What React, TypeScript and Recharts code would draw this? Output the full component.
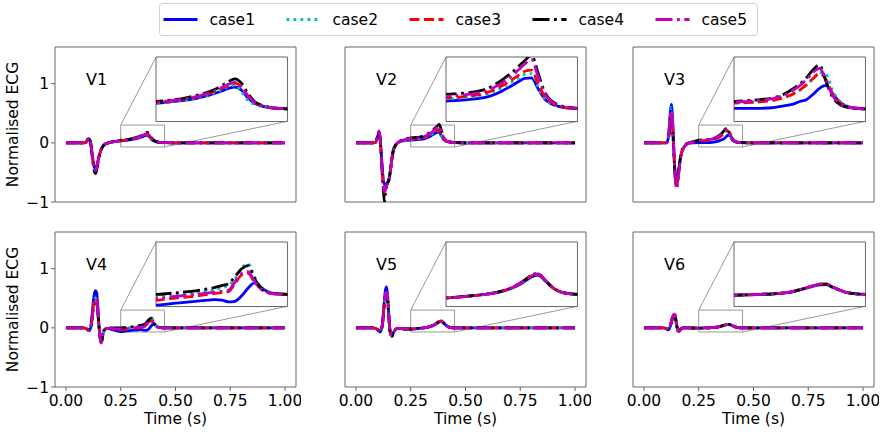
import React from 'react';
import { LineChart, Line, XAxis, YAxis, ReferenceArea, ReferenceLine, ReferenceDot } from 'recharts';

// ---------------- data ----------------
const TIME = [0, 0.08, 0.09, 0.1,
  0.105, 0.11, 0.115, 0.12, 0.125, 0.13, 0.135, 0.14, 0.145, 0.15, 0.155, 0.16, 0.165, 0.17,
  0.18, 0.19, 0.2, 0.22,
  0.25, 0.27, 0.29, 0.31, 0.33,
  0.34, 0.35, 0.36, 0.37, 0.38, 0.39, 0.4, 0.41, 0.42, 0.43,
  0.45, 0.48, 0.52, 0.6, 1.0];

const SERIES_NAMES = ['case1', 'case2', 'case3', 'case4', 'case5'];
const LEAD_NAMES = ['V1', 'V2', 'V3', 'V4', 'V5', 'V6'];
const X_TICKS = [0, 0.25, 0.5, 0.75, 1];
const Y_TICKS = [-1, 0, 1];
const INSET_X_TICKS = [0.3, 0.4];
const INSET_Y_TICKS = [0, 0.2];

const V1_CASE1 = [0, 0, 0.005, 0.05,
  0.07, 0.04, -0.05, -0.2, -0.33, -0.42, -0.44, -0.4, -0.32, -0.24, -0.17, -0.12, -0.08, -0.05,
  -0.02, -0.005, 0.005, 0.02,
  0.035, 0.042, 0.05, 0.062, 0.08,
  0.092, 0.105, 0.12, 0.128, 0.11, 0.065, 0.035, 0.02, 0.012, 0.007,
  0.003, 0.001, 0, 0, 0];
const V1_CASE2 = [0, 0, 0.005, 0.055,
  0.075, 0.04, -0.06, -0.21, -0.34, -0.43, -0.45, -0.41, -0.33, -0.25, -0.18, -0.12, -0.08, -0.05,
  -0.02, -0.005, 0.005, 0.02,
  0.036, 0.043, 0.052, 0.065, 0.084,
  0.097, 0.112, 0.13, 0.138, 0.1, 0.05, 0.028, 0.017, 0.01, 0.006,
  0.003, 0.001, 0, 0, 0];
const V1_CASE3 = [0, 0, 0.006, 0.06,
  0.08, 0.045, -0.06, -0.22, -0.36, -0.46, -0.48, -0.43, -0.34, -0.25, -0.18, -0.12, -0.08, -0.05,
  -0.02, -0.005, 0.005, 0.02,
  0.038, 0.046, 0.056, 0.07, 0.09,
  0.104, 0.12, 0.138, 0.15, 0.128, 0.075, 0.04, 0.022, 0.013, 0.007,
  0.003, 0.001, 0, 0, 0];
const V1_CASE4 = [0, 0, 0.007, 0.065,
  0.085, 0.05, -0.06, -0.23, -0.38, -0.49, -0.52, -0.46, -0.36, -0.26, -0.18, -0.12, -0.08, -0.05,
  -0.02, -0.005, 0.006, 0.024,
  0.045, 0.052, 0.062, 0.078, 0.1,
  0.115, 0.135, 0.158, 0.175, 0.15, 0.09, 0.045, 0.025, 0.014, 0.008,
  0.003, 0.001, 0, 0, 0];
const V1_CASE5 = [0, 0, 0.006, 0.06,
  0.08, 0.045, -0.06, -0.22, -0.36, -0.45, -0.47, -0.42, -0.33, -0.25, -0.18, -0.12, -0.08, -0.05,
  -0.02, -0.005, 0.005, 0.021,
  0.04, 0.048, 0.058, 0.072, 0.093,
  0.108, 0.125, 0.143, 0.155, 0.132, 0.078, 0.04, 0.022, 0.013, 0.007,
  0.003, 0.001, 0, 0, 0];

const V2_CASE1 = [0, 0, 0.01, 0.12,
  0.17, 0.08, -0.15, -0.42, -0.62, -0.7, -0.71, -0.69, -0.66, -0.62, -0.52, -0.38, -0.24, -0.13,
  -0.04, 0.0, 0.02, 0.035,
  0.047, 0.052, 0.058, 0.068, 0.095,
  0.115, 0.135, 0.158, 0.178, 0.18, 0.12, 0.06, 0.032, 0.018, 0.01,
  0.004, 0.001, 0, 0, 0];
const V2_CASE2 = [0, 0, 0.01, 0.13,
  0.18, 0.09, -0.16, -0.45, -0.66, -0.75, -0.74, -0.7, -0.67, -0.62, -0.52, -0.38, -0.24, -0.13,
  -0.04, 0.0, 0.022, 0.042,
  0.058, 0.064, 0.071, 0.084, 0.115,
  0.135, 0.155, 0.18, 0.2, 0.205, 0.13, 0.062, 0.033, 0.018, 0.01,
  0.004, 0.001, 0, 0, 0];
const V2_CASE3 = [0, 0, 0.01, 0.14,
  0.19, 0.09, -0.17, -0.5, -0.75, -0.88, -0.8, -0.72, -0.68, -0.63, -0.53, -0.39, -0.25, -0.14,
  -0.045, 0.0, 0.023, 0.046,
  0.065, 0.07, 0.078, 0.092, 0.125,
  0.145, 0.168, 0.195, 0.218, 0.225, 0.15, 0.075, 0.038, 0.02, 0.011,
  0.004, 0.001, 0, 0, 0];
const V2_CASE4 = [0, 0, 0.012, 0.14,
  0.19, 0.09, -0.18, -0.52, -0.8, -1.0, -0.85, -0.72, -0.68, -0.63, -0.53, -0.39, -0.25, -0.14,
  -0.045, 0.0, 0.026, 0.058,
  0.085, 0.09, 0.098, 0.115, 0.155,
  0.182, 0.21, 0.245, 0.28, 0.31, 0.21, 0.1, 0.05, 0.028, 0.015,
  0.006, 0.002, 0, 0, 0];
const V2_CASE5 = [0, 0, 0.011, 0.14,
  0.2, 0.09, -0.17, -0.5, -0.74, -0.84, -0.8, -0.72, -0.68, -0.63, -0.53, -0.39, -0.25, -0.14,
  -0.045, 0.0, 0.025, 0.052,
  0.075, 0.08, 0.088, 0.104, 0.14,
  0.165, 0.19, 0.225, 0.26, 0.285, 0.19, 0.09, 0.045, 0.025, 0.013,
  0.005, 0.002, 0, 0, 0];

const V3_CASE1 = [0, 0, 0, 0,
  0.01, 0.06, 0.25, 0.52, 0.65, 0.45, 0.02, -0.42, -0.66, -0.72, -0.62, -0.45, -0.3, -0.2,
  -0.09, -0.04, -0.015, 0.0,
  0.005, 0.005, 0.006, 0.01, 0.022,
  0.03, 0.045, 0.055, 0.085, 0.12, 0.137, 0.09, 0.045, 0.02, 0.009,
  0.003, 0.001, 0, 0, 0];
const V3_CASE2 = [0, 0, 0, 0,
  0.01, 0.05, 0.22, 0.47, 0.6, 0.42, 0.02, -0.42, -0.67, -0.74, -0.63, -0.46, -0.3, -0.2,
  -0.09, -0.04, -0.012, 0.008,
  0.035, 0.04, 0.045, 0.055, 0.075,
  0.09, 0.11, 0.14, 0.175, 0.21, 0.2, 0.11, 0.05, 0.022, 0.01,
  0.003, 0.001, 0, 0, 0];
const V3_CASE3 = [0, 0, 0, 0,
  0.01, 0.04, 0.18, 0.36, 0.45, 0.32, -0.02, -0.42, -0.64, -0.7, -0.6, -0.44, -0.29, -0.19,
  -0.085, -0.035, -0.01, 0.01,
  0.035, 0.038, 0.043, 0.052, 0.072,
  0.088, 0.11, 0.14, 0.175, 0.205, 0.17, 0.09, 0.04, 0.018, 0.008,
  0.003, 0.001, 0, 0, 0];
const V3_CASE4 = [0, 0, 0, 0,
  0.01, 0.035, 0.15, 0.3, 0.38, 0.26, -0.05, -0.4, -0.6, -0.64, -0.56, -0.42, -0.28, -0.18,
  -0.08, -0.03, -0.005, 0.015,
  0.044, 0.05, 0.056, 0.066, 0.095,
  0.118, 0.145, 0.18, 0.225, 0.255, 0.16, 0.07, 0.03, 0.014, 0.006,
  0.002, 0.001, 0, 0, 0];
const V3_CASE5 = [0, 0, 0, 0,
  0.01, 0.05, 0.2, 0.43, 0.55, 0.38, 0.0, -0.44, -0.7, -0.78, -0.66, -0.47, -0.31, -0.2,
  -0.09, -0.04, -0.01, 0.012,
  0.04, 0.046, 0.052, 0.062, 0.088,
  0.11, 0.135, 0.17, 0.21, 0.235, 0.17, 0.08, 0.035, 0.016, 0.007,
  0.003, 0.001, 0, 0, 0];

const V4_CASE1 = [0, 0, -0.01, -0.03,
  -0.045, -0.03, 0.05, 0.25, 0.45, 0.58, 0.63, 0.6, 0.4, 0.1, -0.12, -0.23, -0.2, -0.08,
  -0.02, -0.01, -0.02, -0.04,
  -0.062, -0.055, -0.047, -0.04, -0.033,
  -0.03, -0.033, -0.043, -0.04, -0.01, 0.035, 0.066, 0.04, 0.015, 0.005,
  0, 0, 0, 0, 0];
const V4_CASE2 = [0, 0, -0.01, -0.03,
  -0.045, -0.03, 0.04, 0.2, 0.36, 0.46, 0.5, 0.48, 0.32, 0.06, -0.14, -0.25, -0.2, -0.08,
  -0.02, -0.005, -0.005, -0.005,
  -0.005, 0.0, 0.005, 0.01, 0.02,
  0.028, 0.038, 0.05, 0.09, 0.15, 0.175, 0.1, 0.04, 0.015, 0.005,
  0, 0, 0, 0, 0];
const V4_CASE3 = [0, 0, -0.01, -0.03,
  -0.045, -0.03, 0.04, 0.2, 0.37, 0.47, 0.5, 0.47, 0.31, 0.05, -0.15, -0.25, -0.2, -0.08,
  -0.02, -0.01, -0.015, -0.025,
  -0.035, -0.025, -0.018, -0.01, 0.0,
  0.005, 0.01, 0.015, 0.06, 0.11, 0.12, 0.07, 0.03, 0.01, 0.003,
  0, 0, 0, 0, 0];
const V4_CASE4 = [0, 0, -0.01, -0.03,
  -0.045, -0.03, 0.035, 0.18, 0.33, 0.42, 0.45, 0.43, 0.28, 0.04, -0.15, -0.25, -0.2, -0.08,
  -0.02, -0.005, 0.0, 0.0,
  0.0, 0.005, 0.012, 0.02, 0.032,
  0.04, 0.05, 0.06, 0.1, 0.145, 0.165, 0.09, 0.035, 0.012, 0.004,
  0, 0, 0, 0, 0];
const V4_CASE5 = [0, 0, -0.01, -0.03,
  -0.045, -0.03, 0.04, 0.19, 0.35, 0.45, 0.48, 0.46, 0.3, 0.05, -0.15, -0.26, -0.2, -0.08,
  -0.02, -0.008, -0.01, -0.015,
  -0.02, -0.015, -0.008, 0.0, 0.008,
  0.012, 0.017, 0.023, 0.07, 0.12, 0.13, 0.075, 0.03, 0.01, 0.003,
  0, 0, 0, 0, 0];

const V5_CASE1 = [0, 0, -0.01, -0.035,
  -0.055, -0.07, -0.04, 0.05, 0.25, 0.48, 0.65, 0.69, 0.52, 0.22, -0.04, -0.12, -0.14, -0.09,
  -0.03, -0.01, -0.01, -0.02,
  -0.02, -0.015, -0.008, 0.0, 0.012,
  0.022, 0.035, 0.052, 0.075, 0.1, 0.11, 0.08, 0.045, 0.02, 0.008,
  0, 0, 0, 0, 0];
const V5_CASE2 = [0, 0, -0.01, -0.035,
  -0.055, -0.07, -0.04, 0.04, 0.22, 0.43, 0.58, 0.62, 0.47, 0.2, -0.04, -0.12, -0.14, -0.09,
  -0.03, -0.01, -0.01, -0.02,
  -0.02, -0.015, -0.008, 0.0, 0.013,
  0.023, 0.036, 0.054, 0.078, 0.104, 0.114, 0.08, 0.045, 0.02, 0.008,
  0, 0, 0, 0, 0];
const V5_CASE3 = [0, 0, -0.01, -0.035,
  -0.055, -0.07, -0.04, 0.04, 0.21, 0.42, 0.57, 0.6, 0.46, 0.2, -0.04, -0.12, -0.14, -0.09,
  -0.03, -0.01, -0.01, -0.02,
  -0.021, -0.016, -0.009, 0.0, 0.013,
  0.023, 0.037, 0.055, 0.08, 0.106, 0.116, 0.082, 0.046, 0.02, 0.008,
  0, 0, 0, 0, 0];
const V5_CASE4 = [0, 0, -0.01, -0.035,
  -0.055, -0.07, -0.04, 0.035, 0.2, 0.4, 0.55, 0.58, 0.45, 0.19, -0.04, -0.12, -0.14, -0.09,
  -0.03, -0.01, -0.01, -0.02,
  -0.02, -0.015, -0.008, 0.001, 0.014,
  0.025, 0.039, 0.058, 0.083, 0.11, 0.12, 0.085, 0.047, 0.021, 0.008,
  0, 0, 0, 0, 0];
const V5_CASE5 = [0, 0, -0.01, -0.035,
  -0.055, -0.07, -0.04, 0.04, 0.21, 0.42, 0.57, 0.6, 0.46, 0.2, -0.04, -0.12, -0.14, -0.09,
  -0.03, -0.01, -0.01, -0.02,
  -0.021, -0.016, -0.009, 0.0, 0.013,
  0.024, 0.038, 0.056, 0.081, 0.108, 0.117, 0.083, 0.046, 0.02, 0.008,
  0, 0, 0, 0, 0];

const V6_CASE1 = [0, 0, 0, -0.01,
  -0.02, -0.035, -0.02, 0.03, 0.1, 0.17, 0.21, 0.22, 0.15, 0.03, -0.05, -0.06, -0.035, -0.012,
  0, 0, 0, -0.003,
  -0.005, -0.003, 0, 0.003, 0.01,
  0.016, 0.025, 0.036, 0.046, 0.054, 0.056, 0.04, 0.025, 0.012, 0.005,
  0, 0, 0, 0, 0];
const V6_CASE2 = [0, 0, 0, -0.01,
  -0.02, -0.035, -0.02, 0.025, 0.08, 0.14, 0.17, 0.18, 0.12, 0.02, -0.05, -0.06, -0.035, -0.012,
  0, 0, 0, -0.003,
  -0.005, -0.003, 0, 0.003, 0.01,
  0.016, 0.025, 0.035, 0.045, 0.053, 0.055, 0.04, 0.025, 0.012, 0.005,
  0, 0, 0, 0, 0];
const V6_CASE3 = [0, 0, 0, -0.01,
  -0.02, -0.035, -0.02, 0.03, 0.11, 0.19, 0.23, 0.24, 0.16, 0.03, -0.05, -0.06, -0.035, -0.012,
  0, 0, 0, -0.003,
  -0.005, -0.003, 0, 0.003, 0.01,
  0.017, 0.027, 0.038, 0.049, 0.058, 0.06, 0.043, 0.026, 0.012, 0.005,
  0, 0, 0, 0, 0];
const V6_CASE4 = [0, 0, 0, -0.01,
  -0.02, -0.035, -0.02, 0.028, 0.09, 0.16, 0.19, 0.2, 0.14, 0.03, -0.05, -0.06, -0.035, -0.012,
  0, 0, 0, -0.003,
  -0.005, -0.003, 0, 0.003, 0.01,
  0.016, 0.026, 0.037, 0.048, 0.056, 0.058, 0.042, 0.025, 0.012, 0.005,
  0, 0, 0, 0, 0];
const V6_CASE5 = [0, 0, 0, -0.01,
  -0.02, -0.035, -0.02, 0.03, 0.1, 0.18, 0.22, 0.23, 0.155, 0.03, -0.05, -0.06, -0.035, -0.012,
  0, 0, 0, -0.003,
  -0.005, -0.003, 0, 0.003, 0.01,
  0.017, 0.027, 0.038, 0.049, 0.058, 0.06, 0.043, 0.026, 0.012, 0.005,
  0, 0, 0, 0, 0];

const LEAD_SERIES = [
  [V1_CASE1, V1_CASE2, V1_CASE3, V1_CASE4, V1_CASE5],
  [V2_CASE1, V2_CASE2, V2_CASE3, V2_CASE4, V2_CASE5],
  [V3_CASE1, V3_CASE2, V3_CASE3, V3_CASE4, V3_CASE5],
  [V4_CASE1, V4_CASE2, V4_CASE3, V4_CASE4, V4_CASE5],
  [V5_CASE1, V5_CASE2, V5_CASE3, V5_CASE4, V5_CASE5],
  [V6_CASE1, V6_CASE2, V6_CASE3, V6_CASE4, V6_CASE5],
];

// ---------------- styles / layout ----------------
const STYLES = [
  { color: '#0000ff', dash: undefined as string | undefined },
  { color: '#00bfbf', dash: '2.8 4.2' },
  { color: '#ff0000', dash: '10 4.5' },
  { color: '#000000', dash: '17 4.5 2.8 4.5' },
  { color: '#bf00bf', dash: '17 4.5 2.8 4.5' },
];

const FONT = '"DejaVu Sans", Verdana, sans-serif';
const FS = 15.5;
const AXIS_C = '#666';
const MARK_C = '#999';
const LW = 2.8;

const X_DOMAIN: [number, number] = [-0.05, 1.05];
const Y_DOMAIN: [number, number] = [-1, 1.62];
const ZOOM_X: [number, number] = [0.25, 0.45];
const ZOOM_Y: [number, number] = [-0.07, 0.3];
const INSET_BOX = { x1: 0.412, x2: 1.012, y1: 0.365, y2: 1.456 };
const LABEL_POS = { x: 0.14, y: 1.075 };

const PLOT_W = 241;
const PLOT_H = 155;
const COL_LEFT = [55, 344.5, 633];
const ROW_TOP = [47, 232];
const YAXIS_W = 55;
const TOP_M = 5;
const RIGHT_M = 5;
const XAXIS_H = 44;
const INSET_AX = 6;
const INSET_M = 2;

const fmtY = (v: number) => (v < 0 ? '\u2212' + Math.abs(v) : String(v));
const fmtX = (v: number) => v.toFixed(2);

function renderLines() {
  return SERIES_NAMES.map((name, k) => (
    <Line
      key={name}
      dataKey={name}
      name={name}
      type="monotone"
      stroke={STYLES[k].color}
      strokeWidth={LW}
      strokeDasharray={STYLES[k].dash}
      dot={false}
      activeDot={false}
      isAnimationActive={false}
    />
  ));
}

function Panel({ idx }: { idx: number }) {
  const col = idx % 3;
  const row = Math.floor(idx / 3);
  const series = LEAD_SERIES[idx];
  const data = TIME.map((t, i) => {
    const r: any = { t };
    SERIES_NAMES.forEach((n, k) => { r[n] = series[k][i]; });
    return r;
  });
  const left = COL_LEFT[col];
  const top = ROW_TOP[row];
  const showY = col === 0;
  const showX = row === 1;
  const sx = (x: number) => left + ((x - X_DOMAIN[0]) / (X_DOMAIN[1] - X_DOMAIN[0])) * PLOT_W;
  const sy = (y: number) => top + ((Y_DOMAIN[1] - y) / (Y_DOMAIN[1] - Y_DOMAIN[0])) * PLOT_H;
  const iL = sx(INSET_BOX.x1);
  const iR = sx(INSET_BOX.x2);
  const iT = sy(INSET_BOX.y2);
  const iB = sy(INSET_BOX.y1);
  const iW = iR - iL;
  const iH = iB - iT;

  return (
    <>
      <div style={{ position: 'absolute', left: left - YAXIS_W, top: top - TOP_M }}>
        <LineChart
          width={YAXIS_W + PLOT_W + RIGHT_M}
          height={TOP_M + PLOT_H + XAXIS_H}
          data={data}
          margin={{ top: TOP_M, right: RIGHT_M, bottom: 0, left: 0 }}
        >
          <XAxis
            dataKey="t"
            type="number"
            domain={X_DOMAIN}
            ticks={X_TICKS}
            interval={0}
            allowDataOverflow
            axisLine={false}
            tickLine={{ stroke: AXIS_C }}
            tickSize={4}
            tickMargin={4}
            height={XAXIS_H}
            tick={showX ? { fontSize: FS, fill: '#000' } : false}
            tickFormatter={fmtX}
            label={showX ? {
              content: (p: any) => {
                const vb = p.viewBox || {};
                const x = (vb.x || 0) + (vb.width || 0) / 2;
                const y = (vb.y || 0) + 37;
                return (
                  <text x={x} y={y} textAnchor="middle" fontSize={FS} fill="#000">Time (s)</text>
                );
              },
            } : undefined}
          />
          <YAxis
            type="number"
            domain={Y_DOMAIN}
            ticks={Y_TICKS}
            interval={0}
            allowDataOverflow
            axisLine={false}
            tickLine={{ stroke: AXIS_C }}
            tickSize={4}
            tickMargin={2}
            width={YAXIS_W}
            tick={showY ? { fontSize: FS, fill: '#000' } : false}
            tickFormatter={fmtY}
            label={showY ? {
              content: (p: any) => {
                const vb = p.viewBox || {};
                const x = (vb.x || 0) + 13;
                const y = (vb.y || 0) + (vb.height || 0) / 2;
                return (
                  <text x={x} y={y} transform={`rotate(-90 ${x} ${y})`} textAnchor="middle" dominantBaseline="central" fontSize={FS} fill="#000">
                    Normalised ECG
                  </text>
                );
              },
            } : undefined}
          />
          <ReferenceArea x1={X_DOMAIN[0]} x2={X_DOMAIN[1]} y1={Y_DOMAIN[0]} y2={Y_DOMAIN[1]} fill="none" stroke={AXIS_C} strokeWidth={1} />
          <ReferenceArea x1={ZOOM_X[0]} x2={ZOOM_X[1]} y1={ZOOM_Y[0]} y2={ZOOM_Y[1]} fill="none" stroke={MARK_C} strokeWidth={1} />
          <ReferenceLine segment={[{ x: ZOOM_X[0], y: ZOOM_Y[1] }, { x: INSET_BOX.x1, y: INSET_BOX.y2 }]} stroke={MARK_C} strokeWidth={1} />
          <ReferenceLine segment={[{ x: ZOOM_X[1], y: ZOOM_Y[0] }, { x: INSET_BOX.x2, y: INSET_BOX.y1 }]} stroke={MARK_C} strokeWidth={1} />
          {renderLines()}
          <ReferenceDot x={LABEL_POS.x} y={LABEL_POS.y} r={0} fill="none" stroke="none"
            label={{ value: LEAD_NAMES[idx], position: 'center', fontSize: 16, fill: '#000' }} />
        </LineChart>
      </div>
      <div style={{ position: 'absolute', left: iL, top: iT, width: iW, height: iH, background: '#fff' }} />
      <div style={{ position: 'absolute', left: iL - INSET_AX, top: iT - INSET_M }}>
        <LineChart
          width={INSET_AX + iW + INSET_M}
          height={INSET_M + iH + INSET_AX}
          data={data}
          margin={{ top: INSET_M, right: INSET_M, bottom: 0, left: 0 }}
        >
          <XAxis dataKey="t" type="number" domain={ZOOM_X} ticks={INSET_X_TICKS} interval={0} allowDataOverflow
            axisLine={false} tick={false} tickLine={{ stroke: AXIS_C }} tickSize={3} height={INSET_AX} />
          <YAxis type="number" domain={ZOOM_Y} ticks={INSET_Y_TICKS} interval={0} allowDataOverflow
            axisLine={false} tick={false} tickLine={{ stroke: AXIS_C }} tickSize={3} width={INSET_AX} />
          <ReferenceArea x1={ZOOM_X[0]} x2={ZOOM_X[1]} y1={ZOOM_Y[0]} y2={ZOOM_Y[1]} fill="none" stroke={AXIS_C} strokeWidth={1} />
          {renderLines()}
        </LineChart>
      </div>
    </>
  );
}

const LEGEND_BOX = { x: 159.5, y: 3.5, w: 598, h: 32 };
const LEGEND_TEXT_X0 = 209.5;
const LEGEND_STEP = 123;
const LEGEND_Y = 19.5;

function LegendBox() {
  return (
    <svg style={{ position: 'absolute', left: 0, top: 0 }} width={885} height={42}>
      <rect x={LEGEND_BOX.x} y={LEGEND_BOX.y} width={LEGEND_BOX.w} height={LEGEND_BOX.h} rx={3} ry={3} fill="#fff" stroke="#d0d0d0" strokeWidth={1} />
      {SERIES_NAMES.map((name, i) => {
        const tx = LEGEND_TEXT_X0 + i * LEGEND_STEP;
        return (
          <g key={name}>
            <line x1={tx - 46} x2={tx - 12} y1={LEGEND_Y} y2={LEGEND_Y} stroke={STYLES[i].color} strokeWidth={LW} strokeDasharray={STYLES[i].dash} />
            <text x={tx} y={LEGEND_Y} dominantBaseline="central" fontSize={FS} fill="#000">{name}</text>
          </g>
        );
      })}
    </svg>
  );
}

export default function App() {
  return (
    <div style={{ position: 'absolute', left: 0, top: 0, width: 885, height: 432, background: '#fff', fontFamily: FONT, overflow: 'hidden' }}>
      {LEAD_NAMES.map((_, i) => <Panel key={i} idx={i} />)}
      <LegendBox />
    </div>
  );
}
